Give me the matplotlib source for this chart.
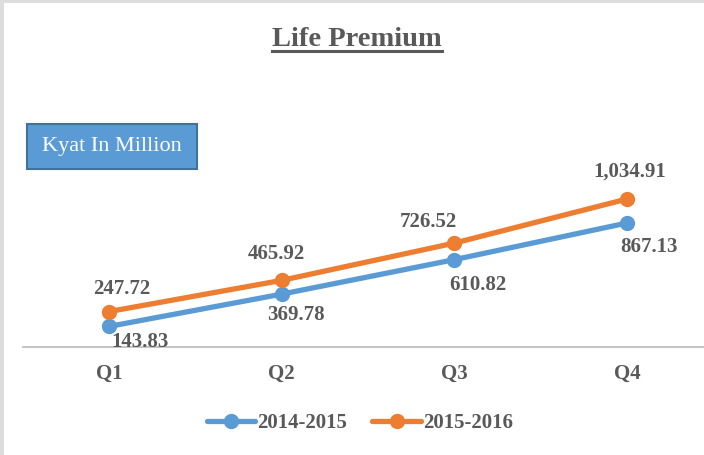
import numpy as np
import matplotlib
matplotlib.use('Agg')
import matplotlib.pyplot as plt
from matplotlib.patches import Rectangle
from matplotlib.lines import Line2D

quarters = ['Q1', 'Q2', 'Q3', 'Q4']
premium_2014_2015 = [143.83, 369.78, 610.82, 867.13]
premium_2015_2016 = [247.72, 465.92, 726.52, 1034.91]
series_names = ['2014-2015', '2015-2016']

BLUE = '#5B9BD5'
ORANGE = '#ED7D31'
GRAY_TXT = '#595959'
W, H = 704, 455

plt.rcParams['font.family'] = ['Liberation Serif', 'DejaVu Serif']

fig = plt.figure(figsize=(W / 100, H / 100), dpi=100)
fig.patch.set_facecolor('white')

# light gray frame on left / top edge
fig.patches.append(Rectangle((0, 0), 4 / W, 1, transform=fig.transFigure,
                             facecolor='#DCDDDF', edgecolor='none', zorder=0))
fig.patches.append(Rectangle((0, 1 - 3 / H), 1, 3 / H, transform=fig.transFigure,
                             facecolor='#DCDDDF', edgecolor='none', zorder=0))

# axes placed so that x=0 is at px 109, x=3 at px 627, y=0 at px 347
px_per_cat = (627 - 109) / 3
left = 109 - 0.5 * px_per_cat
ax_w = 4 * px_per_cat
ymax = 1200
px_per_unit = 0.143
ax = fig.add_axes([left / W, (H - 347) / H, ax_w / W, ymax * px_per_unit / H])
ax.set_xlim(-0.5, 3.5)
ax.set_ylim(0, ymax)
ax.patch.set_alpha(0)

x = np.arange(len(quarters))
l1, = ax.plot(x, premium_2014_2015, color=BLUE, lw=3.8, marker='o', ms=10,
              solid_capstyle='round', clip_on=False, label=series_names[0])
l2, = ax.plot(x, premium_2015_2016, color=ORANGE, lw=3.8, marker='o', ms=10,
              solid_capstyle='round', clip_on=False, label=series_names[1])

# label offsets in pixels (dx, dy)
off_blue = [(31, -16), (14, -21), (24, -25), (22, -24)]
off_orange = [(13, 23), (-5, 26), (-26, 21), (3, 27)]
for xi, v, o in zip(x, premium_2014_2015, off_blue):
    ax.annotate(f'{v:,.2f}', (xi, v), xytext=o, textcoords='offset pixels',
                ha='center', va='center', fontsize=15, fontweight='bold',
                color=GRAY_TXT, annotation_clip=False)
for xi, v, o in zip(x, premium_2015_2016, off_orange):
    ax.annotate(f'{v:,.2f}', (xi, v), xytext=o, textcoords='offset pixels',
                ha='center', va='center', fontsize=15, fontweight='bold',
                color=GRAY_TXT, annotation_clip=False)

for s in ['top', 'right', 'left']:
    ax.spines[s].set_visible(False)
ax.spines['bottom'].set_color('#BFBFBF')
ax.spines['bottom'].set_linewidth(1.3)
ax.set_yticks([])
ax.set_xticks(x)
ax.set_xticklabels(quarters, fontsize=15, fontweight='bold', color=GRAY_TXT)
ax.tick_params(axis='x', length=0, pad=12)

leg = fig.legend(handles=[l1, l2], loc='center', bbox_to_anchor=(360 / W, 1 - 423 / H),
                 ncol=2, frameon=False, handlelength=2.35, columnspacing=1.2,
                 handletextpad=0.1,
                 prop={'family': 'Liberation Serif', 'weight': 'bold', 'size': 15})
for t in leg.get_texts():
    t.set_color(GRAY_TXT)

title = fig.text(357 / W, 1 - 39 / H, 'Life Premium', ha='center', va='center',
                 fontsize=20.5, fontweight='bold', color=GRAY_TXT)

# unit box
fig.patches.append(Rectangle((27 / W, 1 - 169 / H), 170 / W, 45 / H,
                             transform=fig.transFigure, facecolor=BLUE,
                             edgecolor='#41719C', lw=1.5))
fig.text(112 / W, 1 - 147 / H, 'Kyat In Million', ha='center', va='center',
         fontsize=16, color='white')

# underline the title
fig.canvas.draw()
bb = title.get_window_extent()
uy = 1 - 51 / H
fig.lines.append(Line2D([bb.x0 / W, bb.x1 / W], [uy, uy], transform=fig.transFigure,
                        color=GRAY_TXT, lw=2.2))

fig.savefig('out.png', dpi=100)
